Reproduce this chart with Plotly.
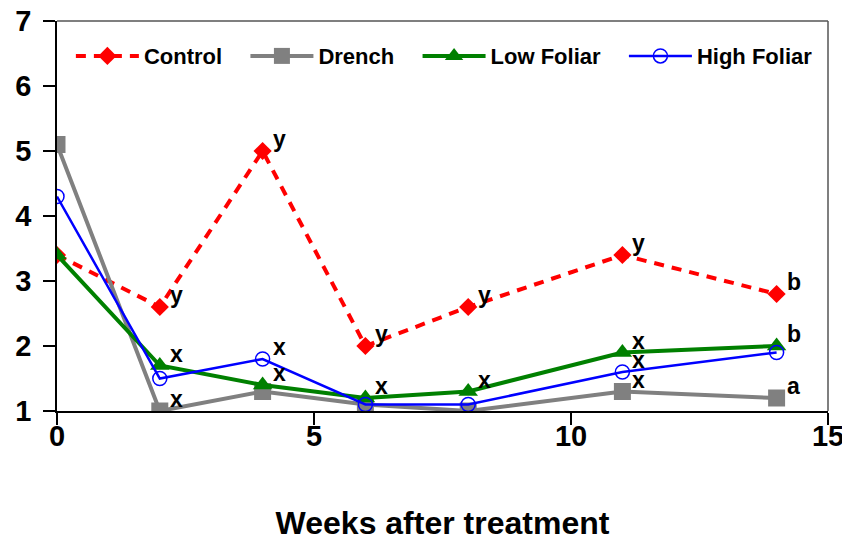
import plotly.graph_objects as go

weeks = [0, 2, 4, 6, 8, 11, 14]
control = [3.4, 2.6, 5.0, 2.0, 2.6, 3.4, 2.8]
drench = [5.1, 1.0, 1.3, 1.1, 1.0, 1.3, 1.2]
low_foliar = [3.4, 1.7, 1.4, 1.2, 1.3, 1.9, 2.0]
high_foliar = [4.3, 1.5, 1.8, 1.1, 1.1, 1.6, 1.9]

series_names = ["Control", "Drench", "Low Foliar", "High Foliar"]

# significance letters: (week, value, letter)
letter_x = [2, 2, 2, 4, 4, 4, 6, 6, 8, 8, 11, 11, 11, 11, 14, 14, 14]
letter_y = [2.6, 1.7, 1.0, 5.0, 1.8, 1.4, 2.0, 1.2, 2.6, 1.3, 3.4, 1.9, 1.6, 1.3, 2.8, 2.0, 1.2]
letters = ["y", "x", "x", "y", "x", "x", "y", "x", "y", "x", "y", "x", "x", "x", "b", "b", "a"]

x_ticks = [0, 5, 10, 15]
y_ticks = [1, 2, 3, 4, 5, 6, 7]

FONT = "Liberation Sans, Arial, sans-serif"
PAD = "\u00a0" * 3

fig = go.Figure()
fig.add_trace(go.Scatter(x=weeks, y=control, name=series_names[0] + PAD, mode="lines+markers",
                         line=dict(color="#ff0000", width=4, dash="10px,8px"),
                         marker=dict(symbol="diamond", size=14, color="#ff0000")))
fig.add_trace(go.Scatter(x=weeks, y=drench, name=series_names[1] + PAD, mode="lines+markers",
                         line=dict(color="#808080", width=4),
                         marker=dict(symbol="square", size=17, color="#808080")))
fig.add_trace(go.Scatter(x=weeks, y=low_foliar, name=series_names[2] + PAD, mode="lines+markers",
                         line=dict(color="#008000", width=4),
                         marker=dict(symbol="triangle-up", size=17, color="#008000")))
fig.add_trace(go.Scatter(x=weeks, y=high_foliar, name=series_names[3], mode="lines+markers",
                         line=dict(color="#0000ff", width=2.5),
                         marker=dict(symbol="circle-open", size=14, color="#0000ff",
                                     line=dict(width=1.5, color="#0000ff"))))

for lx, ly, lt in zip(letter_x, letter_y, letters):
    fig.add_annotation(x=lx, y=ly, text=lt, showarrow=False, xanchor="left", yanchor="middle",
                       xshift=8, yshift=12,
                       font=dict(family=FONT, size=23, color="black", weight="bold"))

fig.add_shape(type="line", xref="paper", yref="paper", x0=0, x1=1, y0=1, y1=1,
              line=dict(color="#555555", width=1.5))
fig.add_shape(type="line", xref="paper", yref="paper", x0=1, x1=1, y0=0, y1=1,
              line=dict(color="#555555", width=1.5))

fig.update_layout(
    width=842, height=533,
    margin=dict(l=49, r=22, t=13, b=130),
    paper_bgcolor="white", plot_bgcolor="white",
    font=dict(family=FONT, color="black"),
    showlegend=True,
    legend=dict(orientation="h", x=0.018, y=0.91, xanchor="left", yanchor="middle",
                font=dict(family=FONT, size=22, color="black", weight="bold"),
                bgcolor="rgba(0,0,0,0)", itemwidth=63, tracegroupgap=0),
    xaxis=dict(range=[0, 15], tickvals=x_ticks, ticks="outside", ticklen=12, tickwidth=1.5,
               tickcolor="black", showline=True, linecolor="black", linewidth=1.5,
               showgrid=False, zeroline=False, automargin=False,
               ticklabelstandoff=-14, ticklabeloverflow="allow",
               tickfont=dict(family=FONT, size=29, weight="bold"),
               title=dict(text="Weeks after treatment", standoff=61,
                          font=dict(family=FONT, size=32, weight="bold"))),
    yaxis=dict(range=[1, 7], tickvals=y_ticks, ticks="outside", ticklen=12, tickwidth=1.5,
               tickcolor="black", showline=True, linecolor="black", linewidth=1.5,
               showgrid=False, zeroline=False, automargin=False,
               ticklabelstandoff=6, ticklabeloverflow="allow",
               tickfont=dict(family=FONT, size=29, weight="bold")),
)

fig.write_html("out.html")
